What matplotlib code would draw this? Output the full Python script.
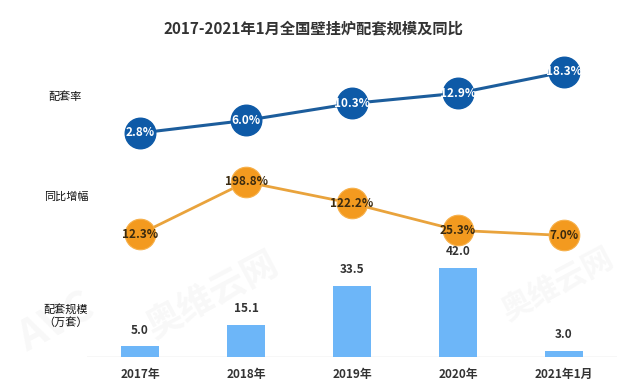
import matplotlib
matplotlib.use("Agg")
import matplotlib.pyplot as plt

plt.rcParams['font.family'] = ['Noto Sans CJK SC', 'DejaVu Sans']

# data
categories = ["2017年", "2018年", "2019年", "2020年", "2021年1月"]
scale_values = [5.0, 15.1, 33.5, 42.0, 3.0]        # 配套规模（万套）
rate_values = [2.8, 6.0, 10.3, 12.9, 18.3]         # 配套率 %
growth_values = [12.3, 198.8, 122.2, 25.3, 7.0]    # 同比增幅 %

W, H = 626, 389
fig = plt.figure(figsize=(W / 100, H / 100), dpi=100)
fig.patch.set_facecolor("white")

# common plot area (pixels from bottom-left)
left_px, right_px = 87, 617
bottom_px, top_px = 32, 349
ax_h = top_px - bottom_px
rect = [left_px / W, bottom_px / H, (right_px - left_px) / W, ax_h / H]


def make_ax(name):
    ax = fig.add_axes(rect, label=name)
    ax.set_xlim(-0.5, len(categories) - 0.5)
    ax.patch.set_alpha(0)
    ax.axis("off")
    return ax


def ylim_for(px_per_unit, anchor_val, anchor_px):
    # anchor_px measured from the axes bottom
    lo = anchor_val - anchor_px / px_per_unit
    return lo, lo + ax_h / px_per_unit


x = list(range(len(categories)))

# faint watermark
fig.text(0.34, 0.24, "奥维云网", fontsize=26, fontweight="bold", color="#999999",
         alpha=0.07, rotation=28, ha="center", va="center")
fig.text(0.89, 0.27, "奥维云网", fontsize=22, fontweight="bold", color="#999999",
         alpha=0.07, rotation=28, ha="center", va="center")
fig.text(0.09, 0.17, "AVC", fontsize=30, fontweight="bold", color="#999999",
         alpha=0.07, rotation=28, ha="center", va="center")

# bars
ax_bar = make_ax("bars")
ax_bar.set_ylim(*ylim_for(89 / 42.0, 0, 0))
ax_bar.axhline(0, xmin=0, xmax=1, color="#d9d9d9", lw=1)
ax_bar.bar(x, scale_values, width=0.35, color="#6db6f8", zorder=2)
for xi, v in zip(x, scale_values):
    ax_bar.annotate(f"{v:.1f}", (xi, v), xytext=(0, 7), textcoords="offset points",
                    ha="center", va="bottom", fontsize=8.5, fontweight="bold", color="#333333")
for xi, c in zip(x, categories):
    ax_bar.annotate(c, (xi, 0), xytext=(0, -8), textcoords="offset points",
                    ha="center", va="top", fontsize=8.5, fontweight="bold", color="#333333")

# growth line (orange)
ax_g = make_ax("growth")
ax_g.set_ylim(*ylim_for(0.279, 12.3, H - 234 - bottom_px))
ax_g.plot(x, growth_values, color="#e9a33c", lw=2, zorder=2)
ax_g.plot(x, growth_values, "o", ms=22, color="#f39a1f", mec="#f6b04a", mew=0.8, zorder=3)
for xi, v in zip(x, growth_values):
    ax_g.text(xi, v, f"{v:.1f}%", ha="center", va="center", fontsize=8.5,
              fontweight="bold", color="#3a2a10", zorder=4)

# rate line (blue)
ax_r = make_ax("rate")
ax_r.set_ylim(*ylim_for(3.94, 2.8, H - 133 - bottom_px))
ax_r.plot(x, rate_values, color="#1c5d9c", lw=2.2, zorder=2)
ax_r.plot(x, rate_values, "o", ms=22, color="#0e5aa7", zorder=3)
for xi, v in zip(x, rate_values):
    ax_r.text(xi, v, f"{v:.1f}%", ha="center", va="center", fontsize=8.5,
              fontweight="bold", color="white", zorder=4)

# row labels and title
fig.text(48 / W, 1 - 97 / H, "配套率", fontsize=8, color="#111111", va="center")
fig.text(44 / W, 1 - 197 / H, "同比增幅", fontsize=8, color="#111111", va="center")
fig.text(66 / W, 1 - 316 / H, "配套规模\n（万套）", fontsize=8, color="#111111",
         va="center", ha="center", linespacing=1.2)
fig.text(0.5, 1 - 28 / H, "2017-2021年1月全国壁挂炉配套规模及同比", fontsize=11,
         fontweight="bold", color="#333333", ha="center", va="center")

fig.savefig("out.png", dpi=100)
